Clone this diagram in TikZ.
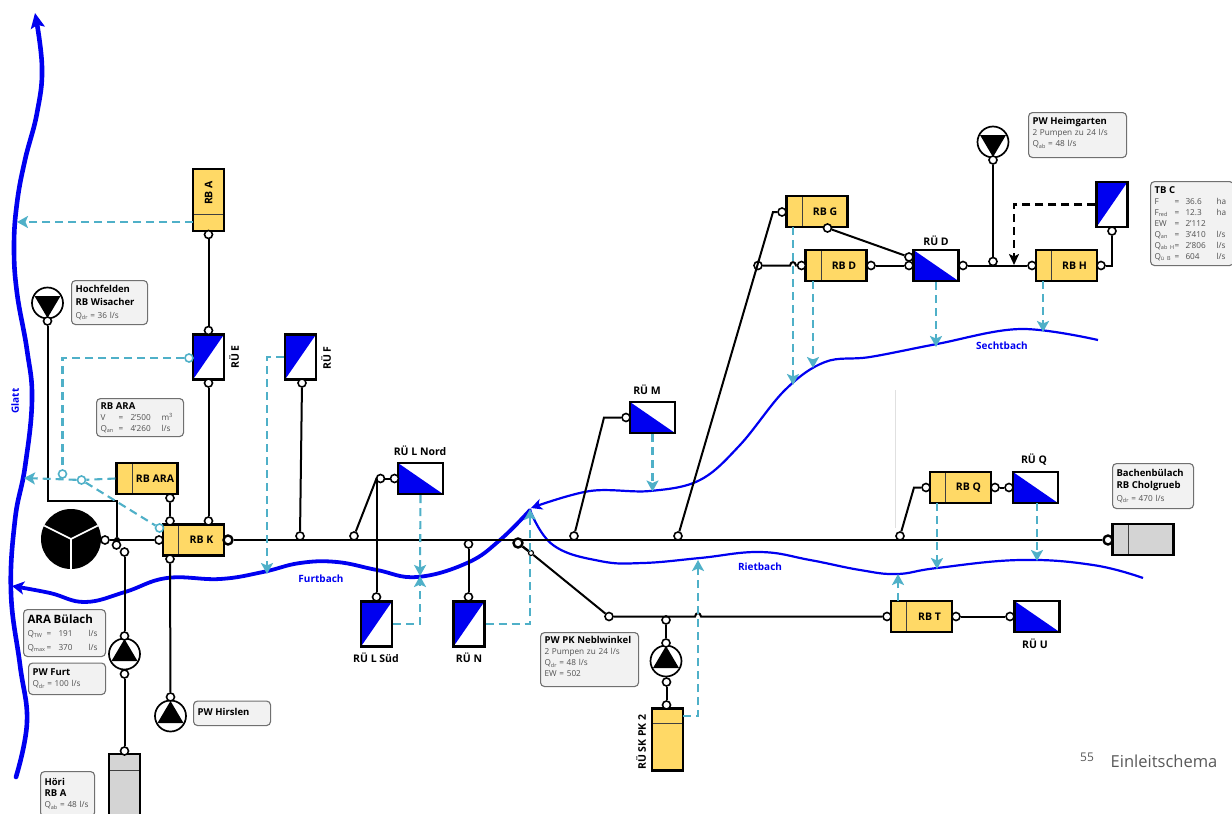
\documentclass[tikz,border=0pt]{standalone}
\usepackage{fontspec}
\setmainfont{Open Sans}
\usetikzlibrary{arrows.meta,calc}
\definecolor{ybox}{HTML}{FFD966}
\definecolor{gbox}{HTML}{D4D4D4}
\definecolor{teal2}{HTML}{4FB0C8}
\definecolor{riv}{HTML}{0000F0}
\definecolor{infofill}{HTML}{F2F2F2}
\definecolor{infoedge}{HTML}{707070}
\definecolor{infotxt}{HTML}{505050}
\newcommand\lab{\fontsize{10.5}{12}\selectfont\bfseries}
\newcommand\subs[1]{\raisebox{-1.4pt}{\fontsize{5.5}{6}\selectfont #1}}
\newcommand\qs[1]{Q\subs{#1}}
\newcommand\ttl[1]{\mbox{\fontsize{9.5}{12}\selectfont\bfseries\color{black}#1}}
% one table row: widths, then key, value, unit
\newcommand\trow[7]{\makebox[#1pt][l]{#4}\makebox[#2pt][l]{=}\makebox[#3pt][l]{#5}#6#7}
\newcommand\infobox[6]{%
  \pgfmathsetmacro\iw{#4-#2}\pgfmathsetmacro\ih{#5-#3}\pgfmathsetmacro\itw{\iw-8}%
  \node[info,minimum width=\iw pt,minimum height=\ih pt,text width=\itw pt] (#1) at (#2,#3) {#6};}
\tikzset{
  x=1pt,y=-1pt,
  jn/.style={circle,draw=black,fill=white,line width=1.6pt,inner sep=0pt,minimum size=8pt},
  bigjn/.style={jn,line width=2.4pt,minimum size=9pt},
  tjn/.style={circle,draw=teal2,fill=white,line width=1.6pt,inner sep=0pt,minimum size=8pt},
  pipe/.style={draw=black,line width=2pt},
  mainpipe/.style={draw=black,line width=2.6pt},
  tdash/.style={draw=teal2,line width=2.1pt,dash pattern=on 8pt off 5pt},
  tarrow/.style={tdash,-{Stealth[length=11pt,width=12pt,inset=2.5pt,fill=teal2]}},
  hboxb/.style={rectangle,draw=black,line width=2.2pt,minimum width=61pt,minimum height=31pt,inner sep=0pt,font=\lab,
    path picture={\draw[line width=1pt,black!75] ([xshift=15.5pt]path picture bounding box.north west) -- ([xshift=15.5pt]path picture bounding box.south west);}},
  yh/.style={hboxb,fill=ybox},
  gh/.style={hboxb,fill=gbox},
  vboxb/.style={rectangle,draw=black,line width=2.2pt,minimum width=31pt,minimum height=62pt,inner sep=0pt,font=\lab,
    path picture={\draw[line width=1pt,black!75] ([yshift=-#1]path picture bounding box.north west) -- ([yshift=-#1]path picture bounding box.north east);}},
  ruup/.style={rectangle,draw=black,line width=2.2pt,fill=white,minimum width=31pt,minimum height=45pt,inner sep=0pt,
    path picture={\fill[riv] (path picture bounding box.north west) -- (path picture bounding box.north east) -- (path picture bounding box.south west) -- cycle;}},
  rulow/.style={rectangle,draw=black,line width=2.2pt,fill=white,minimum width=45pt,minimum height=31pt,inner sep=0pt,
    path picture={\fill[riv] (path picture bounding box.north west) -- (path picture bounding box.south east) -- (path picture bounding box.south west) -- cycle;}},
  pumpup/.style={circle,draw=black,fill=white,line width=1.7pt,minimum size=31pt,inner sep=0pt,
    path picture={\fill[black] ([yshift=15pt]path picture bounding box.center) -- ([xshift=13pt,yshift=-7pt]path picture bounding box.center) -- ([xshift=-13pt,yshift=-7pt]path picture bounding box.center) -- cycle;}},
  pumpdn/.style={circle,draw=black,fill=white,line width=1.7pt,minimum size=31pt,inner sep=0pt,
    path picture={\fill[black] ([yshift=-15pt]path picture bounding box.center) -- ([xshift=13pt,yshift=7pt]path picture bounding box.center) -- ([xshift=-13pt,yshift=7pt]path picture bounding box.center) -- cycle;}},
  info/.style={rectangle,rounded corners=4pt,draw=infoedge,fill=infofill,line width=1.1pt,anchor=north west,inner xsep=4pt,inner ysep=0pt,align=left,
    font=\fontsize{8.2}{11}\selectfont,text=infotxt},
  txt/.style={font=\lab,inner sep=0pt},
  rivtxt/.style={font=\fontsize{10}{11}\selectfont\bfseries,text=riv,inner sep=0pt},
  rthick/.style={draw=riv,line width=3.8pt,line cap=round},
  rthin/.style={draw=riv,line width=2.2pt},
}
\begin{document}
\begin{tikzpicture}
\useasboundingbox (0,0) rectangle (1232,814);
\clip (0,0) rectangle (1232,814);
\fill[white] (0,0) rectangle (1232,814);
% faint guide
\coordinate (fa) at (895,390); \coordinate (fb) at (895,528);
\draw[black!12,line width=.6pt] (fa) -- (fb);
% rivers
\draw[rthick,line width=4.6pt,-{Stealth[length=15pt,width=14pt,inset=3pt]}] plot[smooth,tension=.7] coordinates {(16,777) (27,722) (20,665) (11,593) (15,520) (25,467) (32,400) (27,350) (17,293) (14,247) (17,203) (25,160) (37,113) (42,67) (35,13)};
\draw[rthick,-{Stealth[length=12pt,width=13pt,inset=3pt]}] plot[smooth,tension=.7] coordinates {(530,510) (500,540) (467,563) (417,577) (377,570) (337,562) (300,563) (263,572) (220,579) (167,578) (125,592) (85,602) (50,593) (12,586)};
\draw[rthin,-{Stealth[length=11pt,width=11pt,inset=3pt]}] plot[smooth,tension=.6] coordinates {(1098,340) (1020,329) (937,344) (870,357) (825,362) (785,390) (740,445) (700,480) (650,491) (590,491) (531,508)};
\draw[rthin] plot[smooth,tension=.7] coordinates {(530,510) (553,545) (600,561) (643,563) (700,558) (760,552) (810,560) (860,570) (897,574) (937,568) (1020,560) (1093,565) (1143,578)};
\node[rivtxt,rotate=90] (tglatt) at (15,401) {Glatt};
\node[rivtxt] (tfurt) at (321,579) {Furtbach};
\node[rivtxt] (triet) at (760,567) {Rietbach};
\node[rivtxt] (tsecht) at (1002,346) {Sechtbach};
% boxes
\node[vboxb=45pt,fill=ybox] (rba) at (208.5,200) {};
\node[txt,rotate=90] (trba) at (208.5,193) {RB A};
\node[vboxb=15pt,fill=ybox] (sk) at (667.5,739.5) {};
\node[vboxb=16pt,fill=gbox,minimum height=80pt] (hoeri) at (124.5,794) {};
\node[yh] (rbara) at (147,478.5) {\hspace*{16pt}RB ARA};
\node[yh] (rbk) at (193.5,540) {\hspace*{16pt}RB K};
\node[yh] (rbg) at (817,211.5) {\hspace*{16pt}RB G};
\node[yh] (rbd) at (836,265.5) {\hspace*{16pt}RB D};
\node[yh] (rbh) at (1066.5,265.5) {\hspace*{16pt}RB H};
\node[yh] (rbq) at (960.5,487.5) {\hspace*{16pt}RB Q};
\node[yh] (rbt) at (921.5,616.5) {\hspace*{16pt}RB T};
\node[gh] (endbox) at (1143,539.5) {};
% storm overflows
\node[ruup] (rue) at (208.5,357) {};
\node[ruup] (ruf) at (300.5,357) {};
\node[ruup] (rulsued) at (376.5,624) {};
\node[ruup] (run) at (469,624) {};
\node[ruup] (rutop) at (1112,204.5) {};
\node[rulow] (ruln) at (420.5,478.5) {};
\node[rulow] (rum) at (652.5,417.5) {};
\node[rulow] (rud) at (936,265.5) {};
\node[rulow] (ruq) at (1035.5,487.5) {};
\node[rulow] (ruu) at (1037,616.5) {};
% labels
\node[txt,rotate=90] (lrue) at (234,357) {RÜ E};
\node[txt,rotate=90] (lruf) at (326,358) {RÜ F};
\node[txt] (lruln) at (420,451) {RÜ L Nord};
\node[txt] (lruls) at (376,658) {RÜ L Süd};
\node[txt] (lrun) at (469,658) {RÜ N};
\node[txt] (lrum) at (647,390) {RÜ M};
\node[txt] (lrud) at (936,241) {RÜ D};
\node[txt] (lruq) at (1034,460) {RÜ Q};
\node[txt] (lruu) at (1035,644) {RÜ U};
\node[txt,rotate=90] (lsk) at (641,742) {RÜ SK PK 2};
% pumps
\node[pumpdn] (phoch) at (47.5,303) {};
\node[pumpup] (pfurt) at (124.5,654) {};
\node[pumpup] (phirs) at (170.5,716) {};
\node[pumpup] (psk) at (666,661) {};
\node[pumpdn] (pheim) at (993,142) {};
% ARA wheel
\node[circle,fill=black,minimum size=60pt,inner sep=0pt,
  path picture={\draw[white,line width=1.7pt] (path picture bounding box.center) -- ++(0,32) (path picture bounding box.center) -- ++(28,-14) (path picture bounding box.center) -- ++(-28,-14);}] (ara) at (71,539) {};
% junctions
\node[jn] (ja) at (208.5,234.5) {};
\node[jn] (jet) at (208.5,330.5) {};
\node[jn] (jeb) at (208.5,383) {};
\node[jn] (jfb) at (302,383) {};
\node[jn] (jft) at (300,536) {};
\node[jn] (jhoch) at (47.5,321) {};
\node[jn] (jaram) at (105,540) {};
\node[circle,fill=black,minimum size=6pt,inner sep=0pt] (jdot) at (117,540) {};
\node[jn] (jara2) at (116.5,545) {};
\node[jn] (jara3) at (124.5,552) {};
\node[jn] (jkl) at (159,540) {};
\node[bigjn] (jkr) at (228,540) {};
\node[jn] (jkt1) at (170,521) {};
\node[jn] (jkt2) at (208.5,521) {};
\node[jn] (jkb) at (170,559) {};
\node[jn] (jarab) at (170,498) {};
\node[jn] (jft1) at (124.5,636) {};
\node[jn] (jfb1) at (124.5,674) {};
\node[jn] (jhoe) at (124.5,751) {};
\node[jn] (jhir) at (170.5,697) {};
\node[jn] (jl1) at (354,536) {};
\coordinate (jl2w) at (376.5,478.5);
\node[jn] (jl2) at (380.5,478.5) {};
\node[jn] (jl3) at (394.5,478.5) {};
\node[jn] (jl4) at (376.5,597) {};
\node[jn] (jn1) at (468.5,544) {};
\node[jn] (jn2) at (468.5,597) {};
\node[circle,fill=white,draw=black,line width=1.2pt,inner sep=0pt,minimum size=5pt] (jneb2) at (531,553) {};
\node[jn] (jneb3) at (609,616.5) {};
\node[jn] (jm1) at (574,536) {};
\node[jn] (jm2) at (626,417.5) {};
\node[jn] (jg0) at (678,536) {};
\node[jn] (jgl) at (782,212) {};
\node[jn] (jgb) at (827.5,228) {};
\node[jn] (jd0) at (758,265.5) {};
\node[jn] (jdl) at (801.5,265.5) {};
\node[jn] (jdr) at (871,265.5) {};
\node[jn] (jr1) at (909,257) {};
\node[jn] (jr2) at (909,265.5) {};
\node[jn] (jrr) at (963,265.5) {};
\node[jn] (jh0) at (993,261.5) {};
\node[jn] (jp) at (993,160) {};
\node[jn] (jhl) at (1032,265.5) {};
\node[jn] (jhr) at (1101,265.5) {};
\node[jn] (jtop) at (1112,231) {};
\node[jn] (jq0) at (900,536) {};
\node[jn] (jql) at (926,487.5) {};
\node[jn] (jqr) at (995,487.5) {};
\node[jn] (jql2) at (1009,487.5) {};
\node[jn] (jtl) at (887,616.5) {};
\node[jn] (jtr) at (956,616.5) {};
\node[jn] (jul) at (1010,616.5) {};
\node[bigjn] (jend) at (1108,540) {};
\node[jn] (jsk0) at (666,620) {};
\node[jn] (jsk1) at (666,643) {};
\node[jn] (jsk2) at (666.5,682) {};
\node[jn] (jsk3) at (666.5,705) {};
\node[tjn] (t1) at (62.5,474) {};
\node[tjn] (t2) at (81.5,480) {};
\node[tjn] (t3) at (159.5,528) {};
\node[tjn] (t4) at (189,358) {};
% black pipes
\draw[pipe] (ja) -- (jet);
\draw[pipe] (jeb) -- (jkt2);
\draw[pipe] (jfb) -- (jft);
\draw[pipe] (jarab) -- (jkt1);
\coordinate (jbend) at (117,501);
\draw[pipe] (jhoch) |- (jbend) -- (jdot);
\draw[pipe] (jaram) -- (jkl);
\draw[pipe] (jara3) -- (jft1);
\draw[pipe] (jfb1) -- (jhoe);
\draw[pipe] (jkb) -- (jhir);
\draw[pipe] (jl1) -- (jl2w) -- (jl2);
\draw[pipe] (jl2) -- (jl3);
\draw[pipe] (jl2w) -- (jl4);
\draw[pipe] (jn1) -- (jn2);
\draw[mainpipe] (jkr) -- (jend);
\node[bigjn] (jneb) at (518,543) {};
\draw[pipe] (jneb2) -- (jneb3);
\draw[pipe,line width=2.4pt] (jneb) -- (jneb2);
\draw[pipe] (jneb3) -- (695,616.5) .. controls (696,612) and (700,612) .. (701,616.5) -- (jtl);
\draw[pipe] (jm1) -- (604,417.5) -- (jm2);
\draw[pipe] (jg0) -- (773,212) -- (jgl);
\draw[pipe] (jgb) -- (jr1);
\draw[pipe] (jd0) -- (790,265.5) .. controls (791,261) and (795,261) .. (796,265.5) -- (jdl);
\draw[pipe] (jdr) -- (jr2);
\draw[pipe] (jrr) -- (jhl);
\draw[pipe] (jh0) -- (jp);
\draw[pipe] (jhr) -| (jtop);
\draw[pipe] (jq0) -- (914,487.5) -- (jql);
\draw[pipe] (jqr) -- (jql2);
\draw[pipe] (jtr) -- (jul);
\draw[pipe] (jsk0) -- (jsk1);
\draw[pipe] (jsk2) -- (jsk3);
% black dashed
\coordinate (bd) at (1014,265);
\draw[black,line width=2.1pt,dash pattern=on 8pt off 5pt,-{Stealth[length=11pt,width=10pt,inset=2.5pt]}] (rutop.west) -| (bd);
% teal dashed
\coordinate (aglatt) at (24,478); \coordinate (aglatt2) at (17,222);
\draw[tarrow] (rbara.west) -- (t2) -- (aglatt);
\draw[tarrow] (193,222) -- (aglatt2);
\draw[tdash] (t4) -| (t1);
\draw[tdash] (t2) -- (t3);
\coordinate (af) at (267,574);
\draw[tarrow] (ruf.west) -| (af);
\coordinate (al1) at (420,576);
\draw[tarrow] (ruln.south) -- (al1);
\draw[tarrow] (rulsued.east) -| (al1);
\coordinate (an) at (530,509);
\draw[tarrow] (run.east) -| (an);
\coordinate (am) at (652.5,491.5);
\draw[tarrow] (rum.south) -- (am);
\coordinate (ask) at (698,560);
\draw[tarrow] (683,716) -| (ask);
\coordinate (ag) at (793,385);
\draw[tarrow] (793,227) -- (ag);
\coordinate (ad) at (813,368);
\draw[tarrow] (813,281) -- (ad);
\coordinate (arud) at (936,347);
\draw[tarrow] (rud.south) -- (arud);
\coordinate (ah) at (1043,332);
\draw[tarrow] (1043,281) -- (ah);
\coordinate (aq) at (937,569);
\draw[tarrow] (937,503) -- (aq);
\coordinate (aq2) at (1037,561);
\draw[tarrow] (1037,503) -- (aq2);
\coordinate (at) at (898,574);
\draw[tarrow] (898,601) -- (at);
% info boxes
\infobox{ihoch}{71}{280}{147}{324}{\ttl{Hochfelden}\\[2pt]\ttl{RB Wisacher}\\[2pt]\qs{dr} = 36 l/s}
\infobox{iara}{96}{398}{183}{436}{\ttl{RB ARA}\\\trow{18}{12}{31}{V}{2'500}{m\textsuperscript{3}}{}\\\trow{18}{12}{31}{\qs{an}}{4'260}{l/s}{}}
\infobox{ibul}{23}{609}{105}{656}{\mbox{\fontsize{11.5}{13}\selectfont\bfseries\color{black}ARA Bülach}\\[2pt]\trow{19}{12}{30}{\qs{TW}}{191}{l/s}{}\\[3pt]\trow{19}{12}{30}{\qs{max}}{370}{l/s}{}}
\infobox{ifurt}{28}{662.5}{105}{694}{\ttl{PW Furt}\\\qs{dr} = 100 l/s}
\infobox{ihirs}{193}{700.5}{270}{725}{\ttl{PW Hirslen}\\[-8pt]~}
\infobox{ihoeri}{40}{771}{94}{816}{\ttl{Höri}\\\ttl{RB A}\\\qs{ab} = 48 l/s}
\infobox{ineb}{540}{632}{638}{686}{\ttl{PW PK Neblwinkel}\\2 Pumpen zu 24 l/s\\\qs{dr} = 48 l/s\\EW = 502\\[-5pt]~}
\infobox{iheim}{1028}{112}{1126}{157}{\ttl{PW Heimgarten}\\2 Pumpen zu 24 l/s\\\qs{ab} = 48 l/s\\[-5pt]~}
\infobox{itb}{1150}{181}{1233}{265}{\ttl{TB C}\\\trow{20}{11}{31}{F}{36.6}{ha}{}\\\trow{20}{11}{31}{F\subs{red}}{12.3}{ha}{}\\\trow{20}{11}{31}{EW}{2'112}{}{}\\\trow{20}{11}{31}{\qs{an}}{3'410}{l/s}{}\\\trow{20}{11}{31}{\qs{ab H}}{2'806}{l/s}{}\\\trow{20}{11}{31}{\qs{ü B}}{604}{l/s}{}}
\infobox{ibach}{1112}{463}{1193}{508}{\ttl{Bachenbülach}\\[1.5pt]\ttl{RB Cholgrueb}\\[1.5pt]\qs{dr} = 470 l/s}
% footer
\node[inner sep=0pt,font=\fontsize{12}{14}\selectfont,text=black!65] (pg) at (1087,757) {55};
\node[inner sep=0pt,font=\fontsize{16.5}{18}\selectfont,text=black!65] (ttlb) at (1164,761) {Einleitschema};
\end{tikzpicture}
\end{document}
